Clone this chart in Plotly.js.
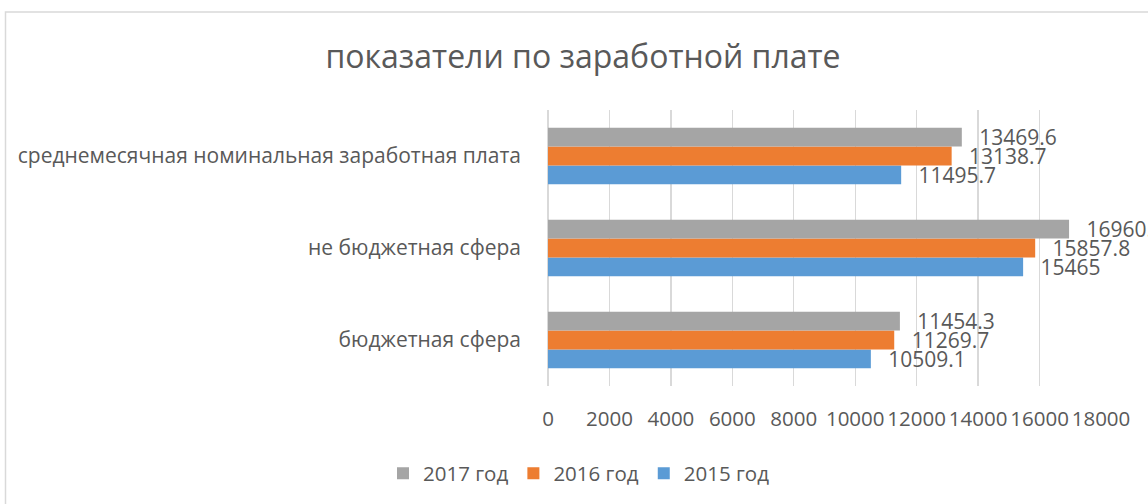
<!DOCTYPE html>
<html>
<head>
<meta charset="utf-8">
<script src="https://cdn.plot.ly/plotly-3.0.1.min.js"></script>
<style>html,body{margin:0;padding:0;background:#fff;}#chart{width:1148px;height:504px;}</style>
</head>
<body>
<div id="chart"></div>
<script>
const categories = ["бюджетная сфера", "не бюджетная сфера", "среднемесячная номинальная заработная плата"];
const seriesNames = ["2015 год", "2016 год", "2017 год"];
const values2015 = [10509.1, 15465, 11495.7];
const values2016 = [11269.7, 15857.8, 13138.7];
const values2017 = [11454.3, 16960.2, 13469.6];
const xTicks = [0, 2000, 4000, 6000, 8000, 10000, 12000, 14000, 16000, 18000];

const colors = ["#5B9BD5", "#ED7D31", "#A5A5A5"];
const allValues = [values2015, values2016, values2017];
const textColor = "#595959";
const fontFamily = "'Open Sans', 'DejaVu Sans', sans-serif";

const W = 1148, H = 504;
const L = 548, R = 1101, T = 110, B = 387.5;
const pw = R - L, ph = B - T;
const px = x => (x - L) / pw;
const py = y => 1 - (y - T) / ph;

const labelPad = "\u00a0\u00a0\u2009";

const traces = allValues.map((vals, i) => ({
  type: "bar",
  orientation: "h",
  name: seriesNames[i],
  y: categories,
  x: vals,
  text: vals.map(v => labelPad + String(v)),
  textposition: "outside",
  constraintext: "none",
  cliponaxis: false,
  textfont: {family: fontFamily, size: 21, color: textColor},
  marker: {color: colors[i], line: {width: 0}},
  hoverinfo: "none"
}));

const layout = {
  width: W, height: H,
  margin: {l: L, r: W - R, t: T, b: H - B, pad: 0},
  paper_bgcolor: "#fff",
  plot_bgcolor: "#fff",
  barmode: "group",
  bargap: 0.384,
  bargroupgap: 0,
  showlegend: true,
  font: {family: fontFamily, color: textColor, size: 20},
  title: {
    text: "показатели по заработной плате",
    font: {family: fontFamily, size: 32, color: textColor},
    x: 583 / W, xref: "container", xanchor: "center",
    y: 1 - 57 / H, yref: "container", yanchor: "middle"
  },
  xaxis: {
    range: [0, 18000],
    tickvals: xTicks,
    ticktext: xTicks.map(String),
    showgrid: true, gridcolor: "#D9D9D9", gridwidth: 1.3,
    zeroline: true, zerolinecolor: "#D9D9D9", zerolinewidth: 1.3,
    showline: false, ticks: "",
    ticklabelstandoff: 18,
    tickfont: {family: fontFamily, size: 20.5, color: textColor},
    fixedrange: true
  },
  yaxis: {
    type: "category",
    categoryorder: "array",
    categoryarray: categories,
    showgrid: false, zeroline: false, showline: false, ticks: "",
    ticklabelstandoff: 26,
    tickfont: {family: fontFamily, size: 21, color: textColor},
    fixedrange: true
  },
  legend: {
    orientation: "h",
    traceorder: "reversed",
    x: px(579), xanchor: "center",
    y: py(474), yanchor: "middle",
    font: {family: fontFamily, size: 20.5, color: textColor},
    bgcolor: "rgba(0,0,0,0)"
  },
  shapes: [{
    type: "rect", xref: "paper", yref: "paper",
    x0: px(5.5), x1: px(1160), y0: py(11.5), y1: py(520),
    line: {color: "#D9D9D9", width: 1.5}, fillcolor: "rgba(0,0,0,0)", layer: "below"
  }]
};

Plotly.newPlot("chart", traces, layout, {displayModeBar: false, staticPlot: true});
</script>
</body>
</html>
